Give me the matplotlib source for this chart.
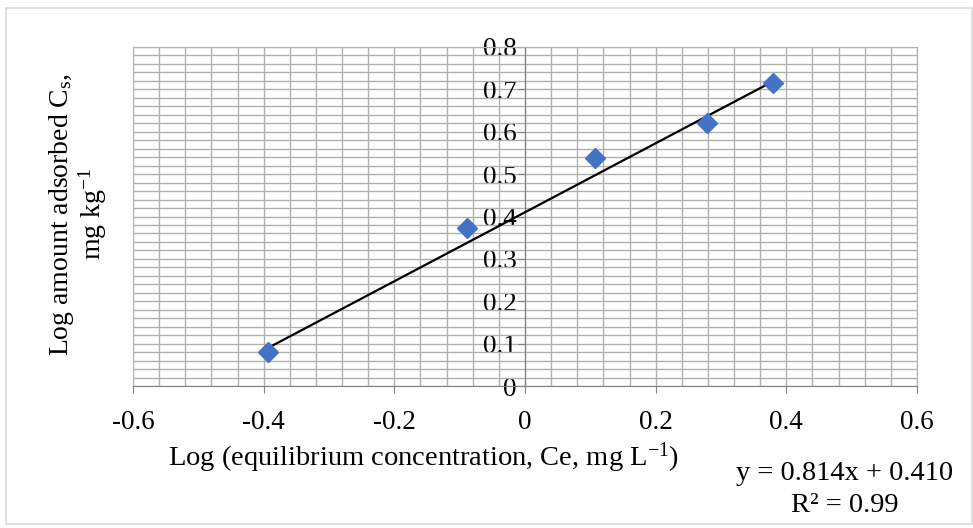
import matplotlib
matplotlib.use("Agg")
import matplotlib.pyplot as plt
from matplotlib.patches import Rectangle
from matplotlib.ticker import MultipleLocator
import numpy as np

# data
log_ce = [-0.394, -0.089, 0.107, 0.279, 0.380]
log_cs = [0.080, 0.373, 0.538, 0.621, 0.715]
slope = 0.814
intercept = 0.410
x_ticks = [-0.6, -0.4, -0.2, 0, 0.2, 0.4, 0.6]
y_ticks = [0, 0.1, 0.2, 0.3, 0.4, 0.5, 0.6, 0.7, 0.8]

plt.rcParams['font.family'] = ['Liberation Serif', 'DejaVu Serif']
plt.rcParams['mathtext.fontset'] = 'custom'
plt.rcParams['mathtext.rm'] = 'Liberation Serif'
plt.rcParams['mathtext.it'] = 'Liberation Serif'

fig = plt.figure(figsize=(9.73, 5.28), dpi=100)
fig.patches.append(Rectangle((6 / 973, 4 / 528), 966 / 973, 516 / 528,
                             transform=fig.transFigure, fill=False,
                             edgecolor='#d9d9d9', lw=1.2))

ax = fig.add_axes([133 / 973, 1 - 386 / 528, 784 / 973, 339 / 528])
ax.set_xlim(-0.6, 0.6)
ax.set_ylim(0, 0.8)

ax.xaxis.set_minor_locator(MultipleLocator(0.04))
ax.yaxis.set_minor_locator(MultipleLocator(0.02))
ax.set_xticks(x_ticks)
ax.set_xticklabels(['%g' % v for v in x_ticks])
ax.set_yticks(y_ticks)
ax.set_yticklabels(['%g' % v for v in y_ticks])

ax.grid(which='both', color='#b0b0b0', lw=1.0)
ax.set_axisbelow(True)

for side in ['top', 'right']:
    ax.spines[side].set_color('#b0b0b0')
ax.spines['left'].set_position(('data', 0))
ax.spines['left'].set_color('#808080')
ax.spines['bottom'].set_color('#808080')

ax.tick_params(which='minor', length=0)
ax.tick_params(which='major', direction='out', length=5, color='#808080',
               labelsize=19.5)
ax.tick_params(axis='x', pad=12)
ax.tick_params(axis='y', pad=1)

# trend line over data range
xs = np.array([min(log_ce), max(log_ce)])
ax.plot(xs, slope * xs + intercept, color='black', lw=1.6, zorder=3)
ax.plot(log_ce, log_cs, 'D', color='#4472c4', markersize=10.5, zorder=4)

fig.text(62 / 973, 1 - 214 / 528, 'Log amount adsorbed C$_{\\mathregular{s}}$,',
         rotation=90, ha='center', va='center', fontsize=20)
fig.text(93 / 973, 1 - 214 / 528, 'mg kg$^{\\mathregular{-1}}$',
         rotation=90, ha='center', va='center', fontsize=20)
fig.text(424 / 973, 1 - 458 / 528,
         'Log (equilibrium concentration, Ce, mg L$^{\\mathregular{-1}}$)',
         ha='center', va='center', fontsize=20.5)
fig.text(845 / 973, 1 - 473 / 528, 'y = %.3fx + %.3f' % (slope, intercept),
         ha='center', va='center', fontsize=20.5)
fig.text(845 / 973, 1 - 505 / 528, 'R² = 0.99',
         ha='center', va='center', fontsize=20.5)

fig.savefig('out.png', dpi=100)
